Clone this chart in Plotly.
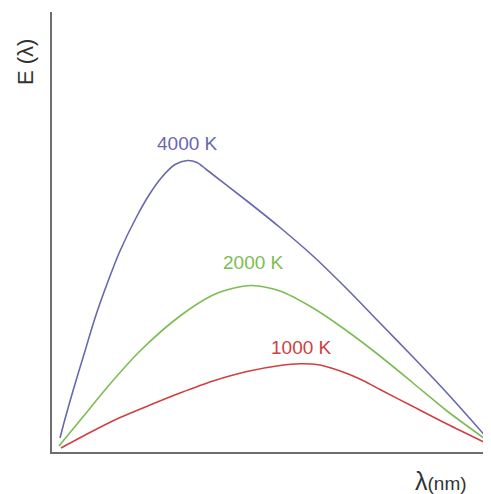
import plotly.graph_objects as go

# Wavelength (arbitrary units along x) and spectral emittance E(λ) (arbitrary units)
x_4000 = [8, 13, 23, 33, 43, 55, 68, 85, 98, 110, 123, 135.5, 145, 155, 195, 228, 261, 295, 328, 361, 395, 436]
y_4000 = [14, 33, 68, 101, 134, 168, 201, 236, 258.5, 275, 287.5, 291.5, 289.5, 282, 251, 224.5, 196, 163, 129, 95, 59, 13]

x_2000 = [7, 30, 58, 88, 128, 161, 180, 200, 228, 261, 295, 328, 361, 395, 436]
y_2000 = [6, 34, 68, 101, 136, 157, 163.5, 166.5, 161, 144, 121, 96, 69, 41, 11]

x_1000 = [9, 37, 67, 98, 128, 161, 195, 228, 248, 268, 295, 312, 328, 361, 395, 436]
y_1000 = [4, 19, 34, 47, 59, 71, 80.5, 86.5, 88.3, 87, 78.5, 71, 62.5, 45.5, 28, 8]

labels = ["4000 K", "2000 K", "1000 K"]
label_x = [135, 201.5, 249.5]
label_y = [309, 189.5, 104.5]

colors = ["#6868ac", "#7cbd52", "#d04040"]
series = [(x_4000, y_4000), (x_2000, y_2000), (x_1000, y_1000)]

fig = go.Figure()
for (xs, ys), c, name in zip(series, colors, labels):
    fig.add_trace(go.Scatter(x=xs, y=ys, mode="lines", name=name,
                             line=dict(color=c, width=1.6, shape="spline", smoothing=0.8)))

for t, lx, ly, c in zip(labels, label_x, label_y, colors):
    fig.add_annotation(x=lx, y=ly, text=t, showarrow=False,
                       xanchor="center", yanchor="middle",
                       font=dict(size=19, color=c, family="Liberation Sans, Arial"))

fig.add_annotation(xref="paper", yref="paper", x=-27 / 437, y=390 / 440,
                   xanchor="center", yanchor="middle",
                   text="E (λ)", textangle=-90, showarrow=False,
                   font=dict(size=22, color="#333333", family="Liberation Sans, Arial"))
fig.add_annotation(xref="paper", yref="paper", x=389 / 437, y=-29 / 440,
                   xanchor="center", yanchor="middle",
                   text="λ<span style='font-size:19px'>(nm)</span>", showarrow=False,
                   font=dict(size=25, color="#333333", family="Liberation Sans, Arial"))

fig.update_layout(
    width=483, height=486,
    margin=dict(l=44, r=2, t=4, b=42),
    paper_bgcolor="white", plot_bgcolor="white",
    showlegend=False,
    xaxis=dict(range=[0, 437], showline=True, linecolor="#6e6e6e", linewidth=1.8,
               showgrid=False, zeroline=False, showticklabels=False, ticks=""),
    yaxis=dict(range=[0, 440], showline=True, linecolor="#6e6e6e", linewidth=1.8,
               showgrid=False, zeroline=False, showticklabels=False, ticks=""),
)

fig.write_html("out.html")
